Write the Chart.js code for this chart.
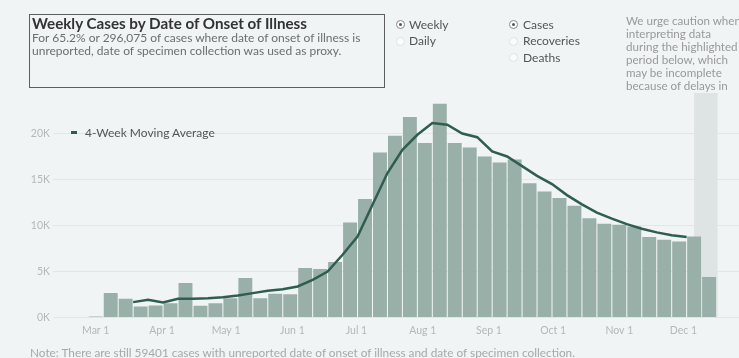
<!DOCTYPE html>
<html><head><meta charset="utf-8">
<script src="https://cdn.jsdelivr.net/npm/chart.js@4"></script>
<style>
html,body{margin:0;padding:0;background:#f0f4f4;}
body{width:739px;height:358px;position:relative;overflow:hidden;font-family:Lato,"Noto Sans",sans-serif;}
#c{position:absolute;left:0;top:0;}
.t{position:absolute;white-space:nowrap;}
#box{position:absolute;left:29px;top:14px;width:354px;height:72px;border:1.5px solid #5e5e5e;}
#title{left:32px;top:13.5px;line-height:18px;font-size:15.2px;font-weight:700;color:#333;}
.sub{left:32px;line-height:14px;font-size:12px;color:#6e6e6e;}
.radio{line-height:16px;font-size:12px;color:#555;}
.dot{position:absolute;width:9px;height:9px;border-radius:50%;box-sizing:border-box;}
.dot.on{border:1px solid #888;background:#fff;}
.dot.on::after{content:"";position:absolute;left:2px;top:2px;width:3px;height:3px;border-radius:50%;background:#555;}
.dot.off{border:1px solid #dde2e2;background:#fbfcfc;}
.caution{left:626px;line-height:13px;font-size:11.6px;color:#999;}
#legdash{position:absolute;left:71px;top:131px;width:6px;height:3px;background:#2f5d4f;}
#legtext{left:85px;top:125px;line-height:16px;font-size:12px;color:#555;}
#note{left:30px;top:346px;line-height:14px;font-size:11.8px;color:#a8a8a8;}
</style></head><body>
<canvas id="c" width="739" height="358"></canvas>
<div id="box"></div>
<div class="t" id="title">Weekly Cases by Date of Onset of Illness</div>
<div class="t sub" style="top:30.5px">For 65.2% or 296,075 of cases where date of onset of illness is</div>
<div class="t sub" style="top:44px">unreported, date of specimen collection was used as proxy.</div>

<div class="dot on" style="left:395.5px;top:20px"></div>
<div class="t radio" style="left:409px;top:16.5px">Weekly</div>
<div class="dot off" style="left:395.5px;top:36.5px"></div>
<div class="t radio" style="left:409px;top:33px">Daily</div>
<div class="dot on" style="left:508.5px;top:20px"></div>
<div class="t radio" style="left:523px;top:16.5px">Cases</div>
<div class="dot off" style="left:508.5px;top:36.5px"></div>
<div class="t radio" style="left:523px;top:33px">Recoveries</div>
<div class="dot off" style="left:508.5px;top:53px"></div>
<div class="t radio" style="left:523px;top:49.5px">Deaths</div>

<div class="t caution" style="top:13.5px">We urge caution when</div>
<div class="t caution" style="top:26.5px">interpreting data</div>
<div class="t caution" style="top:39.5px">during the highlighted</div>
<div class="t caution" style="top:52.5px">period below, which</div>
<div class="t caution" style="top:65.5px">may be incomplete</div>
<div class="t caution" style="top:78.5px">because of delays in</div>

<div id="legdash"></div>
<div class="t" id="legtext">4-Week Moving Average</div>
<div class="t" id="note">Note: There are still 59401 cases with unreported date of onset of illness and date of specimen collection.</div>

<script>
// ---- data ----
const weekStarts = [
 '2020-03-01','2020-03-08','2020-03-15','2020-03-22','2020-03-29',
 '2020-04-05','2020-04-12','2020-04-19','2020-04-26',
 '2020-05-03','2020-05-10','2020-05-17','2020-05-24','2020-05-31',
 '2020-06-07','2020-06-14','2020-06-21','2020-06-28',
 '2020-07-05','2020-07-12','2020-07-19','2020-07-26',
 '2020-08-02','2020-08-09','2020-08-16','2020-08-23','2020-08-30',
 '2020-09-06','2020-09-13','2020-09-20','2020-09-27',
 '2020-10-04','2020-10-11','2020-10-18','2020-10-25',
 '2020-11-01','2020-11-08','2020-11-15','2020-11-22','2020-11-29',
 '2020-12-06','2020-12-13'
];
const weeklyCases = [
 100, 2650, 2030, 1200, 1300,
 1560, 3740, 1270, 1560,
 2100, 4280, 2100, 2580, 2540,
 5370, 5260, 6020, 10330,
 12870, 17930, 19750, 21780,
 18960, 23230, 18960, 18480, 17500,
 16850, 17170, 14600, 13700,
 12980, 12140, 10800, 10180,
 10080, 9900, 8740, 8450, 8260,
 8800, 4390
];
const movingAverage = [
 null, null, 1670, 1920, 1630,
 2030, 2050, 2100, 2200,
 2400, 2650, 2900, 3080, 3370,
 4100, 5000, 6820, 8800,
 12250, 15700, 18230, 19860,
 21130, 20950, 20000, 19600, 18050,
 17500, 16450, 15400, 14500,
 13300, 12300, 11400, 10750,
 10150, 9650, 9250, 8950, 8750,
 null, null
];
const monthTicks = ['2020-03-01','2020-04-01','2020-05-01','2020-06-01','2020-07-01','2020-08-01','2020-09-01','2020-10-01','2020-11-01','2020-12-01'];
const monthLabels = ['Mar 1','Apr 1','May 1','Jun 1','Jul 1','Aug 1','Sep 1','Oct 1','Nov 1','Dec 1'];
const yTickValues = [0, 5000, 10000, 15000, 20000];
const yTickLabels = ['0K','5K','10K','15K','20K'];
const highlightRange = ['2020-12-06','2020-12-17'];
const axisRange = ['2020-02-10','2020-12-27'];
const yMax = 24400;

// ---- helpers ----
const origin = Date.parse('2020-03-01');
const day = s => (Date.parse(s) - origin) / 86400000;
const MID_WEEK = 3.5;

const barData = weekStarts.map((d,i) => ({x: day(d), y: weeklyCases[i]}));
const lineData = weekStarts.map((d,i) => movingAverage[i] == null ? null : ({x: day(d) + MID_WEEK, y: movingAverage[i]})).filter(p => p);

const bandPlugin = {
  id: 'band',
  beforeDatasetsDraw(chart) {
    const {ctx, chartArea, scales} = chart;
    const x0 = scales.x.getPixelForValue(day(highlightRange[0]));
    const x1 = scales.x.getPixelForValue(day(highlightRange[1]));
    ctx.save();
    ctx.fillStyle = '#dee3e4';
    ctx.fillRect(x0, chartArea.top, x1 - x0, chartArea.bottom - chartArea.top);
    ctx.restore();
  }
};

new Chart(document.getElementById('c'), {
  type: 'bar',
  data: {
    datasets: [
      { type: 'line', data: lineData, borderColor: '#2f5d4f', borderWidth: 2.5, pointRadius: 0, tension: 0, order: 0 },
      { type: 'bar', data: barData, backgroundColor: '#98b0a8', barPercentage: 0.93, categoryPercentage: 1.0, order: 1 }
    ]
  },
  options: {
    responsive: false,
    animation: false,
    devicePixelRatio: 1,
    layout: { padding: { top: 93, left: 0, right: 0, bottom: 0 } },
    plugins: { legend: { display: false }, tooltip: { enabled: false } },
    scales: {
      x: {
        type: 'linear', offset: false,
        min: day(axisRange[0]), max: day(axisRange[1]),
        grid: { display: false, drawTicks: false },
        border: { display: false },
        afterFit: s => { s.height = 40.5; },
        afterBuildTicks: s => { s.ticks = monthTicks.map(m => ({value: day(m)})); },
        ticks: {
          autoSkip: false, maxRotation: 0, padding: 7,
          color: '#b3b8b8', font: { family: 'Lato', size: 10.5 },
          callback: (v, i) => monthLabels[i]
        }
      },
      y: {
        min: 0, max: yMax,
        grid: { color: '#e1e7e7', lineWidth: 1, drawTicks: false },
        border: { display: false },
        afterFit: s => { s.width = 53; },
        afterBuildTicks: s => { s.ticks = yTickValues.map(v => ({value: v})); },
        ticks: {
          padding: 3, color: '#b3b8b8', font: { family: 'Lato', size: 10.5 },
          callback: (v, i) => yTickLabels[i]
        }
      }
    }
  },
  plugins: [bandPlugin]
});
</script>
</body></html>
